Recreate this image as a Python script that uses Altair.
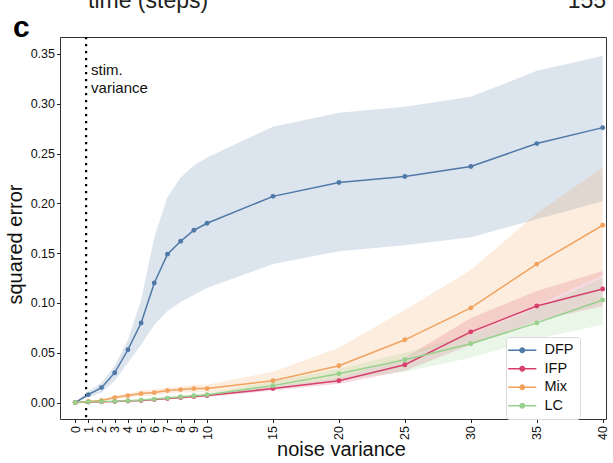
import altair as alt
import pandas as pd

# ---------------- data ----------------
x_vals = [0, 1, 2, 3, 4, 5, 6, 7, 8, 9, 10, 15, 20, 25, 30, 35, 40]
x_ticks = [0, 1, 2, 3, 4, 5, 6, 7, 8, 9, 10, 15, 20, 25, 30, 35, 40]
y_ticks = [0.0, 0.05, 0.10, 0.15, 0.20, 0.25, 0.30, 0.35]

series = ["DFP", "IFP", "Mix", "LC"]
colors = ["#4e79a7", "#d6406b", "#f1a35e", "#97d18c"]

dfp_mean = [0.000, 0.008, 0.015, 0.030, 0.053, 0.080, 0.120, 0.149, 0.162, 0.173, 0.180, 0.207, 0.221, 0.227, 0.237, 0.260, 0.276]
dfp_lo   = [0.000, 0.005, 0.010, 0.022, 0.040, 0.058, 0.078, 0.092, 0.101, 0.108, 0.115, 0.139, 0.152, 0.158, 0.166, 0.184, 0.202]
dfp_hi   = [0.001, 0.011, 0.020, 0.037, 0.063, 0.103, 0.166, 0.206, 0.226, 0.238, 0.246, 0.277, 0.291, 0.297, 0.307, 0.333, 0.348]

ifp_mean = [0.000, 0.0005, 0.0008, 0.001, 0.0015, 0.002, 0.003, 0.004, 0.005, 0.006, 0.007, 0.014, 0.022, 0.038, 0.071, 0.097, 0.114]
ifp_lo   = [0.000, 0.0002, 0.0004, 0.0006, 0.001, 0.0014, 0.0022, 0.003, 0.004, 0.0048, 0.0056, 0.012, 0.019, 0.032, 0.058, 0.082, 0.097]
ifp_hi   = [0.0002, 0.0008, 0.0012, 0.0015, 0.002, 0.0027, 0.0038, 0.005, 0.006, 0.0072, 0.0084, 0.016, 0.025, 0.045, 0.085, 0.112, 0.132]

mix_mean = [0.000, 0.001, 0.002, 0.005, 0.007, 0.009, 0.010, 0.012, 0.013, 0.014, 0.014, 0.022, 0.037, 0.063, 0.095, 0.139, 0.178]
mix_lo   = [0.000, 0.0005, 0.001, 0.003, 0.005, 0.006, 0.007, 0.009, 0.010, 0.010, 0.010, 0.016, 0.025, 0.045, 0.068, 0.098, 0.128]
mix_hi   = [0.0005, 0.002, 0.003, 0.007, 0.009, 0.012, 0.013, 0.015, 0.016, 0.018, 0.018, 0.031, 0.055, 0.093, 0.133, 0.190, 0.236]

lc_mean = [0.000, 0.0007, 0.001, 0.0012, 0.0018, 0.0025, 0.0035, 0.0045, 0.0058, 0.0068, 0.0078, 0.017, 0.029, 0.043, 0.059, 0.080, 0.103]
lc_lo   = [0.000, 0.0003, 0.0006, 0.0008, 0.0012, 0.0018, 0.0026, 0.0034, 0.0045, 0.0054, 0.0062, 0.014, 0.023, 0.031, 0.045, 0.064, 0.078]
lc_hi   = [0.0003, 0.001, 0.0014, 0.0016, 0.0024, 0.0032, 0.0045, 0.0056, 0.007, 0.0082, 0.0094, 0.021, 0.034, 0.050, 0.068, 0.095, 0.125]

stim_variance = 0.83

means = [dfp_mean, ifp_mean, mix_mean, lc_mean]
lows = [dfp_lo, ifp_lo, mix_lo, lc_lo]
highs = [dfp_hi, ifp_hi, mix_hi, lc_hi]

rows = []
for name, m, lo, hi in zip(series, means, lows, highs):
    for xv, a, b, c in zip(x_vals, m, lo, hi):
        rows.append({"series": name, "x": xv, "mean": a, "lo": b, "hi": c})
df = pd.DataFrame(rows)

FONT = "Liberation Sans"

xscale = alt.Scale(domain=[-1.15, 40.25], nice=False, zero=False)
yscale = alt.Scale(domain=[-0.0165, 0.367], nice=False, zero=False)
cscale = alt.Scale(domain=series, range=colors)

x_axis = alt.Axis(values=x_ticks, title="noise variance", labelAngle=270,
                  labelAlign="right", labelBaseline="middle", labelPadding=3,
                  labelOverlap=False, labelFlush=False, labelBound=False,
                  labelFontSize=12.5, titleFontSize=20, titleX=281, titleY=36,
                  titleBaseline="alphabetic", titleFontWeight="normal",
                  grid=False, domain=False, ticks=True, tickSize=3.5,
                  tickColor="#222", labelColor="#111", titleColor="#111",
                  labelFont=FONT, titleFont=FONT)
y_axis = alt.Axis(values=y_ticks, format=".2f", title="squared error",
                  labelOverlap=False,
                  labelFontSize=12.5, titleFontSize=20, titleX=-39, titleY=207,
                  titleAngle=270, titleBaseline="alphabetic", titleFontWeight="normal",
                  grid=False, domain=False, ticks=True, tickSize=3.5, labelPadding=2,
                  tickColor="#222", labelColor="#111", titleColor="#111",
                  labelFont=FONT, titleFont=FONT)

legend_path = "M-4.7,-0.25H4.7V0.25H-4.7Z M1,0A1,1 0 1 1 -1,0A1,1 0 1 1 1,0Z"
legend = alt.Legend(title=None, orient="none", legendX=446, legendY=300,
                    symbolType=legend_path, symbolSize=36, symbolStrokeWidth=0,
                    symbolOpacity=1, symbolOffset=3,
                    labelFontSize=14.5, labelFont=FONT, labelColor="#111",
                    labelOffset=15, rowPadding=3.5, padding=6,
                    fillColor="white", strokeColor="#d9d9d9", cornerRadius=3)

base = alt.Chart(df)

bands = base.mark_area(opacity=0.2).encode(
    x=alt.X("x:Q", scale=xscale, axis=x_axis),
    y=alt.Y("lo:Q", scale=yscale, axis=y_axis),
    y2="hi:Q",
    color=alt.Color("series:N", scale=cscale, legend=None),
    detail="series:N",
)

lines = base.mark_line(strokeWidth=1.5).encode(
    x=alt.X("x:Q", scale=xscale, axis=x_axis),
    y=alt.Y("mean:Q", scale=yscale, axis=y_axis),
    color=alt.Color("series:N", scale=cscale, legend=None),
)

points = base.mark_circle(size=24, opacity=1).encode(
    x=alt.X("x:Q", scale=xscale, axis=x_axis),
    y=alt.Y("mean:Q", scale=yscale, axis=y_axis),
    color=alt.Color("series:N", scale=cscale, legend=legend),
)

stim = alt.Chart(pd.DataFrame({"v": [stim_variance]})).mark_rule(
    color="black", strokeWidth=2.2, strokeDash=[2.2, 4.8]
).encode(x=alt.X("v:Q", scale=xscale, axis=x_axis))

stim_text = alt.Chart(pd.DataFrame({"v": [stim_variance]})).mark_text(
    text=["stim.", "variance"], align="left", baseline="alphabetic",
    dx=5, fontSize=15, lineHeight=18, font=FONT, color="#111"
).encode(x=alt.X("v:Q", scale=xscale, axis=x_axis), y=alt.value(38))

panel = alt.Chart(pd.DataFrame({"v": [0]})).mark_text(
    text="c", align="left", baseline="alphabetic", fontSize=30,
    fontWeight="bold", font=FONT, color="black"
).encode(x=alt.value(-47), y=alt.value(0))

top_left = alt.Chart(pd.DataFrame({"v": [0]})).mark_text(
    text="time (steps)", align="left", baseline="alphabetic", fontSize=23,
    font=FONT, color="#222"
).encode(x=alt.value(28), y=alt.value(-29))

top_right = alt.Chart(pd.DataFrame({"v": [0]})).mark_text(
    text="155", align="right", baseline="alphabetic", fontSize=23,
    font=FONT, color="#222"
).encode(x=alt.value(546), y=alt.value(-29))

chart = alt.layer(bands, stim, lines, points, stim_text, panel, top_left, top_right).resolve_legend(
    color="independent"
).properties(
    width=546, height=382, autosize=alt.AutoSizeParams(type="none"),
    padding={"left": 60, "top": 37, "right": 7, "bottom": 44},
    background="white",
).configure_view(stroke="#333", strokeWidth=1).configure_axis(labelOverlap=False)

chart.save("out.html", embed_options={"renderer": "svg", "actions": False})
